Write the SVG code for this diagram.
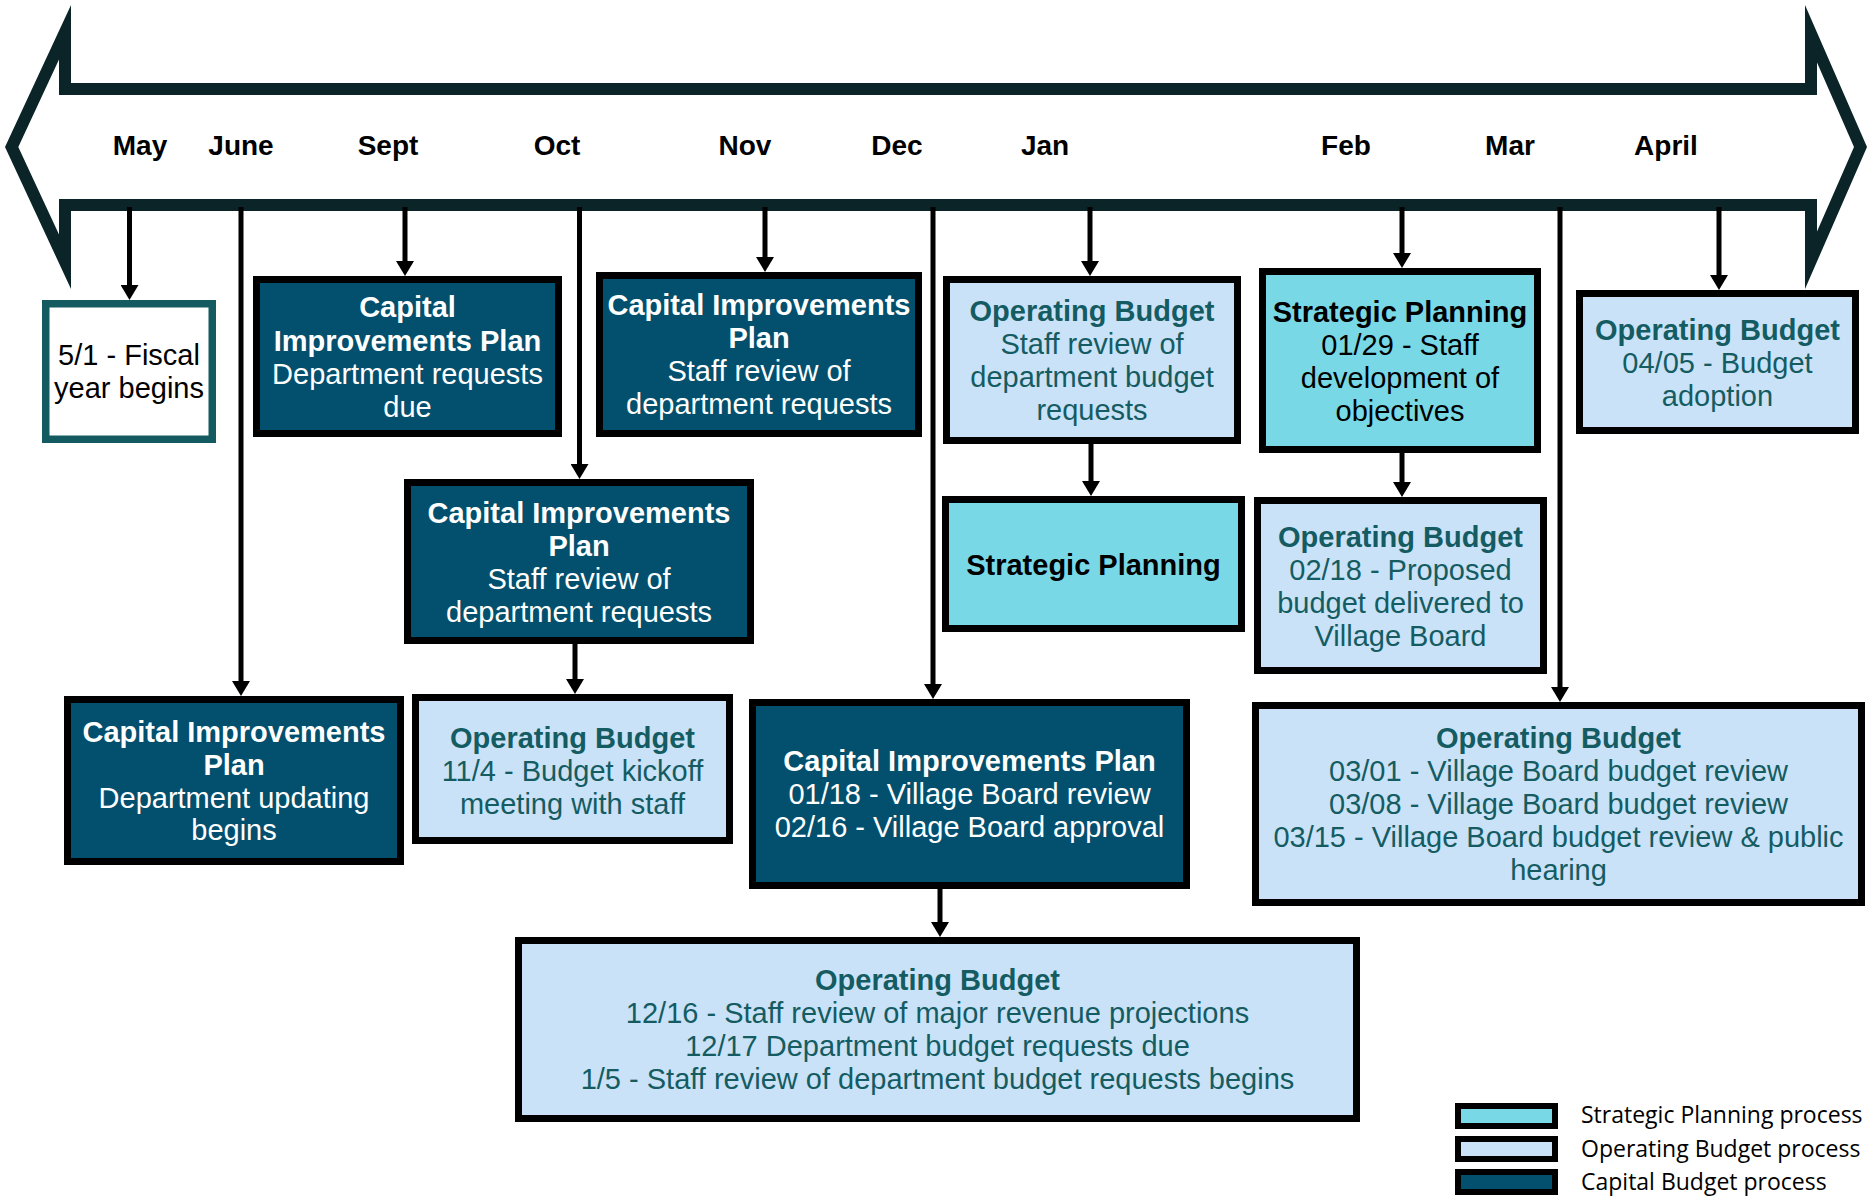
<svg xmlns="http://www.w3.org/2000/svg" width="1868" height="1198" viewBox="0 0 1868 1198">
<style>
.cip{fill:#03506E;stroke:#000;stroke-width:7}
.ob{fill:#C9E2F8;stroke:#000;stroke-width:7}
.sp{fill:#79D8E6;stroke:#000;stroke-width:7}
.fy{fill:#fff;stroke:#145B61;stroke-width:7.5}
text{font-family:"Liberation Sans",Arial,sans-serif;font-size:29px;text-anchor:middle}
.b{font-weight:bold}
.w{fill:#fff}
.g{fill:#145C62}
.k{fill:#000}
.month{font-size:28px;font-weight:bold;fill:#000}
.leg{font-family:"Open Sans",sans-serif;font-size:23px;text-anchor:start;fill:#000}
.conn line{stroke:#000;stroke-width:5;marker-end:url(#ah)}
</style>
<defs>
<marker id="ah" markerUnits="userSpaceOnUse" viewBox="0 0 15 18" markerWidth="15" markerHeight="18" refX="5" refY="9" orient="auto">
<path d="M0,0 L15,9 L0,18 Z" fill="#000"/>
</marker>
</defs>
<rect width="1868" height="1198" fill="#fff"/>
<g id="timeline">
<path fill="#0B2427" fill-rule="evenodd" d="M5,147 L71,5 L71,83 L1805,83 L1805,5 L1867,147 L1805,289 L1805,211 L71,211 L71,289 Z M18.3,147 L59,234.6 L59,199 L1817,199 L1817,231.5 L1854,147 L1817,62.5 L1817,95 L59,95 L59,59.4 Z"/>
<text class="month" x="140" y="155">May</text>
<text class="month" x="241" y="155">June</text>
<text class="month" x="388" y="155">Sept</text>
<text class="month" x="557" y="155">Oct</text>
<text class="month" x="745" y="155">Nov</text>
<text class="month" x="897" y="155">Dec</text>
<text class="month" x="1045" y="155">Jan</text>
<text class="month" x="1346" y="155">Feb</text>
<text class="month" x="1510" y="155">Mar</text>
<text class="month" x="1666" y="155">April</text>
</g>
<g id="connectors" class="conn">
<line x1="129.5" y1="207" x2="129.5" y2="290"/>
<line x1="241" y1="207" x2="241" y2="686"/>
<line x1="405" y1="207" x2="405" y2="266"/>
<line x1="579.5" y1="207" x2="579.5" y2="469"/>
<line x1="765" y1="207" x2="765" y2="262"/>
<line x1="933" y1="207" x2="933" y2="689"/>
<line x1="1090" y1="207" x2="1090" y2="266"/>
<line x1="1402" y1="207" x2="1402" y2="258"/>
<line x1="1560" y1="207" x2="1560" y2="692"/>
<line x1="1719" y1="207" x2="1719" y2="280"/>
<line x1="575" y1="644" x2="575" y2="684"/>
<line x1="1091" y1="444" x2="1091" y2="486"/>
<line x1="1402" y1="453" x2="1402" y2="487"/>
<line x1="940" y1="889" x2="940" y2="927"/>
</g>
<g id="fiscal">
<rect class="fy" x="45.75" y="303.75" width="166.5" height="135.5"/>
<text class="k" x="129" y="365">5/1 - Fiscal</text>
<text class="k" x="129" y="398">year begins</text>
</g>
<g id="cip-sept">
<rect class="cip" x="256.5" y="279.5" width="302" height="154"/>
<text class="w b" x="407.5" y="317">Capital</text>
<text class="w b" x="407.5" y="351">Improvements Plan</text>
<text class="w" x="407.5" y="384">Department requests</text>
<text class="w" x="407.5" y="417">due</text>
</g>
<g id="cip-nov">
<rect class="cip" x="599.5" y="275.5" width="319" height="158"/>
<text class="w b" x="759" y="315">Capital Improvements</text>
<text class="w b" x="759" y="348">Plan</text>
<text class="w" x="759" y="381">Staff review of</text>
<text class="w" x="759" y="414">department requests</text>
</g>
<g id="cip-oct">
<rect class="cip" x="407.5" y="482.5" width="343" height="158"/>
<text class="w b" x="579" y="523">Capital Improvements</text>
<text class="w b" x="579" y="556">Plan</text>
<text class="w" x="579" y="589">Staff review of</text>
<text class="w" x="579" y="622">department requests</text>
</g>
<g id="cip-june">
<rect class="cip" x="67.5" y="699.5" width="333" height="162"/>
<text class="w b" x="234" y="742">Capital Improvements</text>
<text class="w b" x="234" y="775">Plan</text>
<text class="w" x="234" y="808">Department updating</text>
<text class="w" x="234" y="840">begins</text>
</g>
<g id="ob-kickoff">
<rect class="ob" x="415.5" y="697.5" width="314" height="143"/>
<text class="g b" x="572.5" y="748">Operating Budget</text>
<text class="g" x="572.5" y="781">11/4 - Budget kickoff</text>
<text class="g" x="572.5" y="814">meeting with staff</text>
</g>
<g id="cip-dec">
<rect class="cip" x="752.5" y="702.5" width="434" height="183"/>
<text class="w b" x="969.5" y="771">Capital Improvements Plan</text>
<text class="w" x="969.5" y="804">01/18 - Village Board review</text>
<text class="w" x="969.5" y="837">02/16 - Village Board approval</text>
</g>
<g id="ob-dec">
<rect class="ob" x="518.5" y="940.5" width="838" height="178"/>
<text class="g b" x="937.5" y="990">Operating Budget</text>
<text class="g" x="937.5" y="1023">12/16 - Staff review of major revenue projections</text>
<text class="g" x="937.5" y="1056">12/17 Department budget requests due</text>
<text class="g" x="937.5" y="1089">1/5 - Staff review of department budget requests begins</text>
</g>
<g id="ob-jan">
<rect class="ob" x="946.5" y="279.5" width="291" height="161"/>
<text class="g b" x="1092" y="321">Operating Budget</text>
<text class="g" x="1092" y="354">Staff review of</text>
<text class="g" x="1092" y="387">department budget</text>
<text class="g" x="1092" y="420">requests</text>
</g>
<g id="sp-jan">
<rect class="sp" x="945.5" y="499.5" width="296" height="129"/>
<text class="k b" x="1093.5" y="575">Strategic Planning</text>
</g>
<g id="sp-feb">
<rect class="sp" x="1262.5" y="271.5" width="275" height="178"/>
<text class="k b" x="1400" y="322">Strategic Planning</text>
<text class="k" x="1400" y="355">01/29 - Staff</text>
<text class="k" x="1400" y="388">development of</text>
<text class="k" x="1400" y="421">objectives</text>
</g>
<g id="ob-feb">
<rect class="ob" x="1257.5" y="500.5" width="286" height="170"/>
<text class="g b" x="1400.5" y="547">Operating Budget</text>
<text class="g" x="1400.5" y="580">02/18 - Proposed</text>
<text class="g" x="1400.5" y="613">budget delivered to</text>
<text class="g" x="1400.5" y="646">Village Board</text>
</g>
<g id="ob-mar">
<rect class="ob" x="1255.5" y="705.5" width="606" height="197"/>
<text class="g b" x="1558.5" y="748">Operating Budget</text>
<text class="g" x="1558.5" y="781">03/01 - Village Board budget review</text>
<text class="g" x="1558.5" y="814">03/08 - Village Board budget review</text>
<text class="g" x="1558.5" y="847">03/15 - Village Board budget review &amp; public</text>
<text class="g" x="1558.5" y="880">hearing</text>
</g>
<g id="ob-april">
<rect class="ob" x="1579.5" y="293.5" width="276" height="137"/>
<text class="g b" x="1717.5" y="340">Operating Budget</text>
<text class="g" x="1717.5" y="373">04/05 - Budget</text>
<text class="g" x="1717.5" y="406">adoption</text>
</g>
<g id="legend">
<rect class="sp" x="1458" y="1106" width="97" height="20" style="stroke-width:6"/>
<rect class="ob" x="1458" y="1139" width="97" height="20" style="stroke-width:6"/>
<rect class="cip" x="1458" y="1172" width="97" height="20" style="stroke-width:6"/>
<text class="leg" x="1581" y="1123">Strategic Planning process</text>
<text class="leg" x="1581" y="1157">Operating Budget process</text>
<text class="leg" x="1581" y="1190">Capital Budget process</text>
</g>
</svg>
